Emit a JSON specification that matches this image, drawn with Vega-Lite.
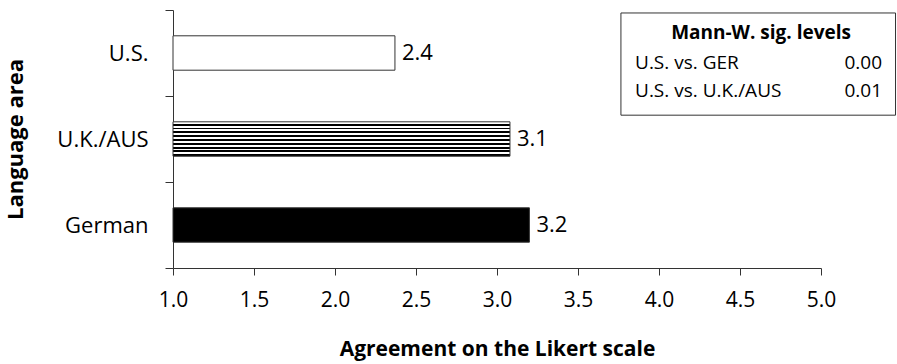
{
  "$schema": "https://vega.github.io/schema/vega-lite/v6.json",
  "width": 648,
  "height": 258,
  "autosize": "none",
  "padding": {"left": 173, "top": 10, "right": 76, "bottom": 96},
  "config": {
    "font": "Open Sans",
    "view": {"stroke": null},
    "text": {"font": "Open Sans", "color": "black"}
  },
  "datasets": {
    "bars": [
      {"area": "U.S.", "score": 2.37},
      {"area": "U.K./AUS", "score": 3.08},
      {"area": "German", "score": 3.2}
    ],
    "sig": [
      {"comparison": "U.S. vs. GER", "p": "0.00"},
      {"comparison": "U.S. vs. U.K./AUS", "p": "0.01"}
    ],
    "sigTitle": [{"title": "Mann-W. sig. levels"}]
  },
  "layer": [
    {
      "data": {"name": "bars"},
      "encoding": {
        "y": {
          "field": "area",
          "type": "nominal",
          "sort": ["U.S.", "U.K./AUS", "German"],
          "scale": {"paddingInner": 0, "paddingOuter": 0},
          "axis": {
            "title": "Language area",
            "titleFontSize": 22,
            "titleFontWeight": "bold",
            "titleColor": "black",
            "titlePadding": 29,
            "labelFontSize": 22,
            "labelColor": "black",
            "labelPadding": 17,
            "tickBand": "extent",
            "tickSize": 8,
            "tickColor": "#333",
            "domainColor": "#333",
            "grid": false
          }
        },
        "x": {
          "field": "score",
          "type": "quantitative",
          "scale": {"domain": [1, 5], "nice": false, "zero": false},
          "axis": {
            "title": "Agreement on the Likert scale",
            "titleFontSize": 21,
            "titleFontWeight": "bold",
            "titleColor": "black",
            "titlePadding": 28,
            "labelFontSize": 21,
            "labelColor": "black",
            "labelPadding": 14,
            "labelFlush": false,
            "values": [1, 1.5, 2, 2.5, 3, 3.5, 4, 4.5, 5],
            "format": ".1f",
            "tickSize": 7,
            "tickColor": "#333",
            "domainColor": "#333",
            "grid": false
          }
        },
        "x2": {"datum": 1}
      },
      "layer": [
        {
          "transform": [{"filter": "datum.area === 'U.S.'"}],
          "mark": {"type": "bar", "height": {"band": 0.4}, "fill": "white", "stroke": "#333", "strokeWidth": 1}
        },
        {
          "transform": [{"filter": "datum.area === 'U.K./AUS'"}],
          "mark": {
            "type": "bar",
            "height": {"band": 0.4},
            "stroke": "#333",
            "strokeWidth": 1,
            "fill": {
              "gradient": "linear",
              "x1": 0, "y1": 0, "x2": 0, "y2": 1,
              "stops": [
                {"offset": 0, "color": "white"}, {"offset": 0.0556, "color": "white"},
                {"offset": 0.0556, "color": "black"}, {"offset": 0.1111, "color": "black"},
                {"offset": 0.1111, "color": "white"}, {"offset": 0.1667, "color": "white"},
                {"offset": 0.1667, "color": "black"}, {"offset": 0.2222, "color": "black"},
                {"offset": 0.2222, "color": "white"}, {"offset": 0.2778, "color": "white"},
                {"offset": 0.2778, "color": "black"}, {"offset": 0.3333, "color": "black"},
                {"offset": 0.3333, "color": "white"}, {"offset": 0.3889, "color": "white"},
                {"offset": 0.3889, "color": "black"}, {"offset": 0.4444, "color": "black"},
                {"offset": 0.4444, "color": "white"}, {"offset": 0.5, "color": "white"},
                {"offset": 0.5, "color": "black"}, {"offset": 0.5556, "color": "black"},
                {"offset": 0.5556, "color": "white"}, {"offset": 0.6111, "color": "white"},
                {"offset": 0.6111, "color": "black"}, {"offset": 0.6667, "color": "black"},
                {"offset": 0.6667, "color": "white"}, {"offset": 0.7222, "color": "white"},
                {"offset": 0.7222, "color": "black"}, {"offset": 0.7778, "color": "black"},
                {"offset": 0.7778, "color": "white"}, {"offset": 0.8333, "color": "white"},
                {"offset": 0.8333, "color": "black"}, {"offset": 0.8889, "color": "black"},
                {"offset": 0.8889, "color": "white"}, {"offset": 0.9444, "color": "white"},
                {"offset": 0.9444, "color": "black"}, {"offset": 1, "color": "black"}
              ]
            }
          }
        },
        {
          "transform": [{"filter": "datum.area === 'German'"}],
          "mark": {"type": "bar", "height": {"band": 0.4}, "fill": "black", "stroke": "#333", "strokeWidth": 1}
        },
        {
          "mark": {"type": "text", "align": "left", "baseline": "middle", "dx": 7, "fontSize": 22},
          "encoding": {"text": {"field": "score", "type": "quantitative", "format": ".1f"}, "x2": null}
        }
      ]
    },
    {
      "layer": [
        {
          "data": {"name": "sigTitle"},
          "mark": {"type": "rect", "fill": "white", "stroke": "#333", "strokeWidth": 1},
          "encoding": {
            "x": {"datum": 3.765, "type": "quantitative"},
            "x2": {"datum": 5.46},
            "y": {"datum": 3, "type": "quantitative", "scale": {"domain": [0, 258], "reverse": true}, "axis": null},
            "y2": {"datum": 106}
          }
        },
        {
          "data": {"name": "sigTitle"},
          "mark": {"type": "text", "align": "center", "baseline": "middle", "fontSize": 19, "fontWeight": "bold"},
          "encoding": {
            "x": {"datum": 4.63, "type": "quantitative"},
            "y": {"datum": 23, "type": "quantitative"},
            "text": {"field": "title"}
          }
        },
        {
          "data": {"name": "sig"},
          "transform": [{"filter": "datum.comparison === 'U.S. vs. GER'"}],
          "mark": {"type": "text", "align": "left", "baseline": "middle", "fontSize": 19},
          "encoding": {
            "x": {"datum": 3.852, "type": "quantitative"},
            "y": {"datum": 53, "type": "quantitative"},
            "text": {"field": "comparison"}
          }
        },
        {
          "data": {"name": "sig"},
          "transform": [{"filter": "datum.comparison === 'U.S. vs. GER'"}],
          "mark": {"type": "text", "align": "right", "baseline": "middle", "fontSize": 19},
          "encoding": {
            "x": {"datum": 5.377, "type": "quantitative"},
            "y": {"datum": 53, "type": "quantitative"},
            "text": {"field": "p"}
          }
        },
        {
          "data": {"name": "sig"},
          "transform": [{"filter": "datum.comparison === 'U.S. vs. U.K./AUS'"}],
          "mark": {"type": "text", "align": "left", "baseline": "middle", "fontSize": 19},
          "encoding": {
            "x": {"datum": 3.852, "type": "quantitative"},
            "y": {"datum": 82, "type": "quantitative"},
            "text": {"field": "comparison"}
          }
        },
        {
          "data": {"name": "sig"},
          "transform": [{"filter": "datum.comparison === 'U.S. vs. U.K./AUS'"}],
          "mark": {"type": "text", "align": "right", "baseline": "middle", "fontSize": 19},
          "encoding": {
            "x": {"datum": 5.377, "type": "quantitative"},
            "y": {"datum": 82, "type": "quantitative"},
            "text": {"field": "p"}
          }
        }
      ]
    }
  ],
  "resolve": {"scale": {"y": "independent"}}
}
